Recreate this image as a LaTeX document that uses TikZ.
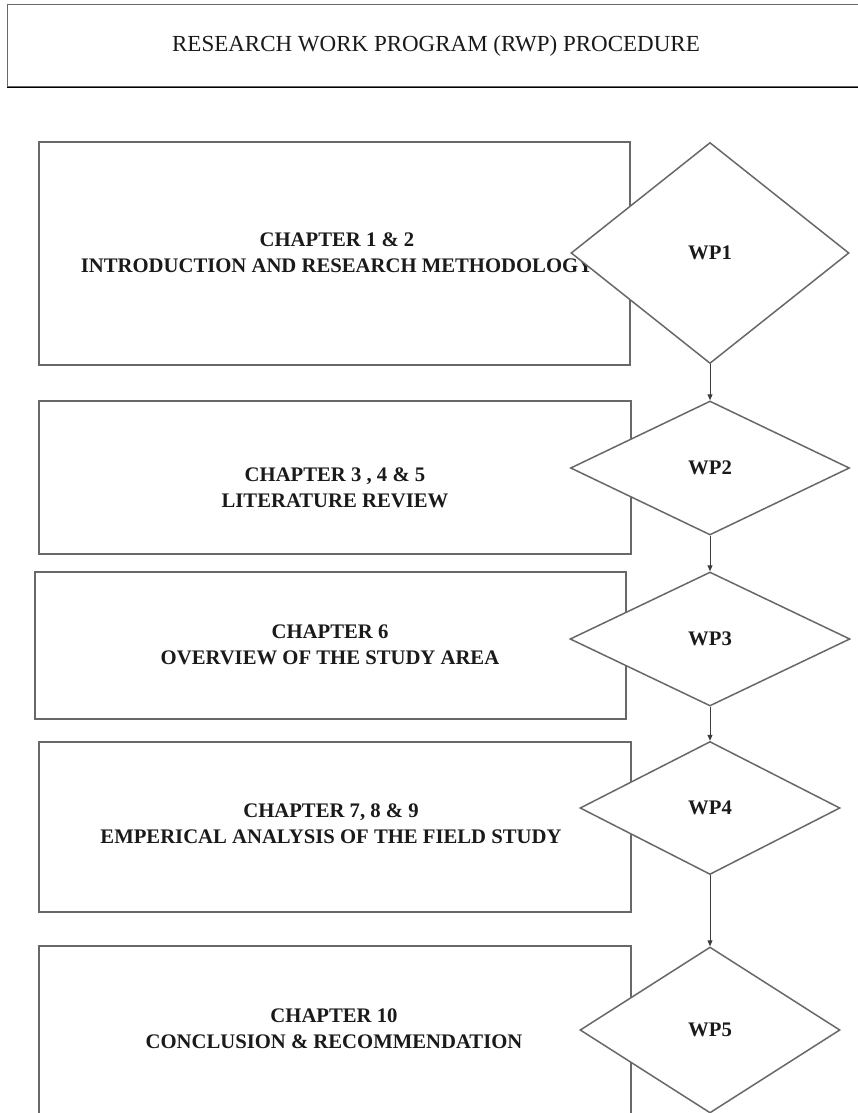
\documentclass[tikz,border=0pt]{standalone}
\usepackage{fontspec}
\setmainfont{Liberation Serif}
\usetikzlibrary{shapes.geometric,arrows.meta}
\definecolor{frame}{HTML}{686868}
\definecolor{shade}{HTML}{A8A8A8}
\definecolor{arrowc}{HTML}{3C3C3C}
\definecolor{ink}{HTML}{1A1A1A}
\begin{document}
\begin{tikzpicture}[x=1pt,y=-1pt,
  titlebox/.style={draw=frame, line width=1.4pt, fill=white, inner sep=0pt, anchor=north west},
  chapbox/.style={draw=frame, line width=1.5pt, fill=white, inner sep=0pt, anchor=north west},
  chaptext/.style={font=\fontsize{20.7}{26}\selectfont\bfseries, text=ink, align=center, inner sep=0pt},
  titletext/.style={font=\fontsize{23}{28}\selectfont, text=ink, inner sep=0pt},
  wpdiamond/.style={diamond, draw=frame, line width=1.5pt, fill=white, inner sep=0pt,
    font=\fontsize{20.7}{26}\selectfont\bfseries, text=ink},
  flow/.style={draw=arrowc, line width=1pt, -{Triangle[length=6pt,width=5pt]}}]

\useasboundingbox (0,0) rectangle (858,1113);
\clip (0,0) rectangle (858,1113);
\fill[white] (0,0) rectangle (858,1113);

% heading with a soft lower edge
\draw[shade, line width=2.6pt] (7,87) -- (880,87);
\node[titlebox, minimum width=880pt, minimum height=82pt] (head) at (7,4) {};
\node[titletext] (title) at (436,46) {RESEARCH WORK PROGRAM (RWP) PROCEDURE};

% chapter boxes
\node[chapbox, minimum width=591pt, minimum height=223pt] (r1) at (38,141) {};
\node[chapbox, minimum width=592pt, minimum height=153pt] (r2) at (38,400) {};
\node[chapbox, minimum width=591pt, minimum height=147pt] (r3) at (34,571) {};
\node[chapbox, minimum width=592pt, minimum height=170pt] (r4) at (38,741) {};
\node[chapbox, minimum width=592pt, minimum height=200pt] (r5) at (38,945) {};

\node[chaptext] (t1) at (337,253) {CHAPTER 1 \& 2\\INTRODUCTION AND RESEARCH METHODOLOGY};
\node[chaptext] (t2) at (335,488) {CHAPTER 3 , 4 \& 5\\LITERATURE REVIEW};
\node[chaptext] (t3) at (330,645) {CHAPTER 6\\OVERVIEW OF THE STUDY AREA};
\node[chaptext] (t4) at (331,824) {CHAPTER 7, 8 \& 9\\EMPERICAL ANALYSIS OF THE FIELD STUDY};
\node[chaptext] (t5) at (334,1029) {CHAPTER 10\\CONCLUSION \& RECOMMENDATION};

% work packages
\node[wpdiamond, minimum width=278pt, minimum height=221pt] (d1) at (710,253) {WP1};
\node[wpdiamond, minimum width=279pt, minimum height=134pt] (d2) at (710,468) {WP2};
\node[wpdiamond, minimum width=280pt, minimum height=134pt] (d3) at (710,639) {WP3};
\node[wpdiamond, minimum width=260pt, minimum height=133pt] (d4) at (710,808) {WP4};
\node[wpdiamond, minimum width=260pt, minimum height=166pt] (d5) at (710,1030) {WP5};

% sequence
\draw[flow] (d1.south) -- (d2.north);
\draw[flow] (d2.south) -- (d3.north);
\draw[flow] (d3.south) -- (d4.north);
\draw[flow] (d4.south) -- (d5.north);
\end{tikzpicture}
\end{document}
